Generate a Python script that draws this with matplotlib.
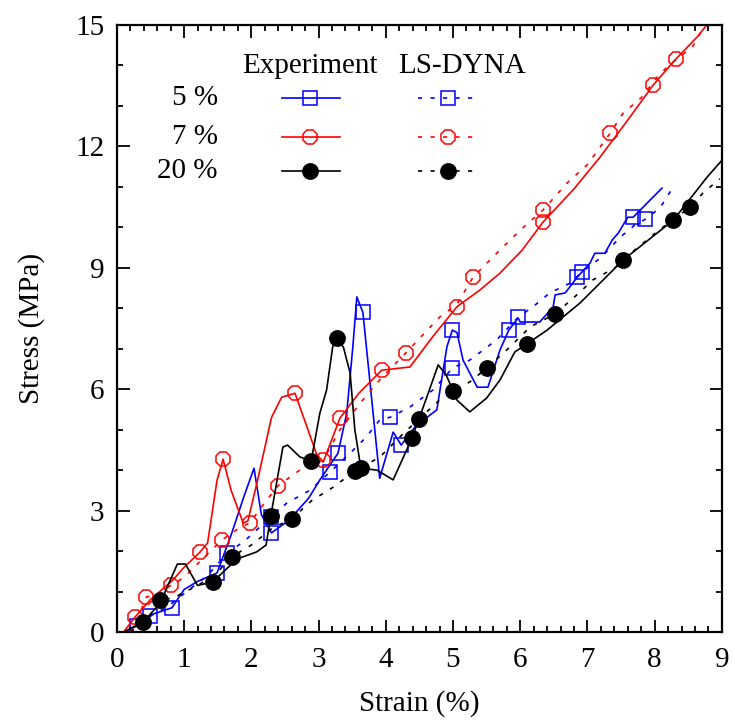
import matplotlib.pyplot as plt
from matplotlib.ticker import MultipleLocator

plt.rcParams['font.family'] = ['Liberation Serif', 'DejaVu Serif']
plt.rcParams['font.size'] = 21

# Experiment, 5 % (blue solid, squares)
exp5_x = [0.10, 0.30, 0.55, 0.82, 1.00, 1.20, 1.49, 1.70, 1.88, 2.04, 2.15, 2.30, 2.55, 2.85,
          3.02, 3.29, 3.42, 3.51, 3.57, 3.66, 3.76, 3.91, 4.11, 4.23, 4.45, 4.76, 4.91, 4.99,
          5.06, 5.15, 5.36, 5.52, 5.70, 5.83, 5.97, 6.00, 6.29, 6.49, 6.52, 6.67, 6.85, 7.04,
          7.11, 7.26, 7.37, 7.46, 7.60, 7.68, 7.83, 7.93, 8.11]
exp5_y = [0.00, 0.15, 0.45, 0.60, 1.05, 1.25, 1.46, 2.40, 3.30, 4.05, 2.90, 2.45, 2.75, 3.30,
          3.76, 4.42, 5.41, 7.04, 8.28, 7.90, 6.26, 3.80, 4.94, 4.62, 5.10, 5.49, 7.05, 7.46,
          7.40, 6.72, 6.05, 6.05, 6.97, 7.46, 7.76, 7.66, 7.66, 8.03, 8.33, 8.38, 8.77, 9.12,
          9.36, 9.36, 9.69, 9.86, 10.25, 10.25, 10.50, 10.67, 10.97]
exp5_mx = [0.30, 0.82, 1.49, 2.30, 3.29, 3.66, 4.23, 4.99, 5.83, 6.85, 7.68]

# LS-DYNA, 5 % (blue dotted, squares)
ls5_x = [0.20, 0.49, 0.75, 1.00, 1.35, 1.64, 1.90, 2.13, 2.30, 2.53, 2.87, 3.17, 3.47, 3.70,
         3.91, 4.07, 4.36, 4.70, 4.85, 4.99, 5.25, 5.65, 5.97, 6.20, 6.44, 6.74, 6.92, 7.20,
         7.49, 7.70, 7.86, 8.08, 8.20, 8.27]
ls5_y = [0.00, 0.40, 0.62, 0.95, 1.40, 1.95, 2.25, 2.60, 2.85, 3.19, 3.50, 3.95, 4.42, 4.80,
         5.24, 5.31, 5.56, 5.98, 6.25, 6.52, 6.72, 7.22, 7.78, 8.05, 8.38, 8.62, 8.90, 9.25,
         9.76, 10.05, 10.20, 10.48, 10.80, 10.97]
ls5_mx = [0.49, 1.64, 2.30, 3.17, 4.07, 4.99, 5.97, 6.92, 7.86]

# Experiment, 7 % (red solid, circles)
exp7_x = [0.10, 0.27, 0.50, 0.83, 1.00, 1.24, 1.35, 1.49, 1.58, 1.70, 1.88, 1.95, 2.10, 2.30,
          2.45, 2.65, 2.80, 2.97, 3.07, 3.32, 3.60, 3.94, 4.36, 4.70, 5.06, 5.40, 5.70, 6.03,
          6.34, 6.80, 7.19, 7.60, 7.98, 8.30, 8.63, 8.80]
exp7_y = [0.00, 0.37, 0.80, 1.28, 1.60, 1.98, 2.20, 3.75, 4.27, 3.50, 2.69, 2.75, 3.80, 5.30,
          5.80, 5.90, 5.20, 4.40, 4.20, 5.29, 5.90, 6.47, 6.55, 7.30, 8.04, 8.45, 8.87, 9.44,
          10.13, 10.95, 11.74, 12.65, 13.52, 14.13, 14.70, 15.05]
exp7_mx = [0.27, 1.24, 1.58, 2.65, 3.32, 3.94, 5.06, 6.34, 7.98]

# LS-DYNA, 7 % (red dotted, circles)
ls7_x = [0.20, 0.30, 0.44, 0.60, 0.80, 1.00, 1.30, 1.56, 1.80, 1.98, 2.20, 2.40, 2.72, 3.07,
         3.32, 3.62, 3.91, 4.30, 4.80, 5.06, 5.30, 5.65, 6.00, 6.34, 6.70, 7.00, 7.34, 7.53,
         7.80, 8.08, 8.32, 8.56, 8.75]
ls7_y = [0.00, 0.30, 0.87, 0.90, 1.15, 1.35, 1.85, 2.27, 2.55, 2.70, 3.20, 3.62, 4.00, 4.25,
         5.00, 5.66, 6.23, 6.90, 7.78, 8.10, 8.77, 9.36, 9.93, 10.43, 11.10, 11.55, 12.33,
         12.82, 13.20, 13.80, 14.15, 14.45, 15.00]
ls7_mx = [0.44, 0.80, 1.56, 1.98, 2.40, 3.07, 4.30, 5.30, 6.34, 7.34, 8.32]

# Experiment, 20 % (black solid, filled circles)
exp20_x = [0.10, 0.39, 0.64, 0.90, 1.02, 1.20, 1.43, 1.78, 2.08, 2.22, 2.29, 2.47, 2.54, 2.72,
           2.89, 3.02, 3.12, 3.21, 3.27, 3.37, 3.47, 3.54, 3.63, 3.87, 4.11, 4.39, 4.61, 4.78,
           4.90, 5.06, 5.25, 5.50, 5.70, 5.92, 6.10, 6.40, 6.89, 7.53, 8.28, 8.78, 9.05]
exp20_y = [0.00, 0.25, 0.70, 1.68, 1.68, 1.15, 1.24, 1.80, 1.98, 2.15, 2.87, 4.57, 4.62, 4.33,
           4.22, 5.41, 5.98, 7.04, 7.26, 7.04, 6.40, 5.00, 4.05, 4.00, 3.76, 4.79, 5.80, 6.60,
           6.35, 5.73, 5.44, 5.78, 6.23, 6.92, 7.12, 7.46, 8.13, 9.19, 10.18, 11.24, 11.75]
exp20_mx = [0.39, 1.43, 2.29, 2.89, 3.27, 3.63, 4.39, 6.10, 7.53, 8.28]

# LS-DYNA, 20 % (black dotted, filled circles)
ls20_x = [0.20, 0.45, 0.64, 0.85, 1.20, 1.45, 1.71, 2.00, 2.30, 2.60, 2.90, 3.22, 3.54, 3.91,
          4.21, 4.49, 4.80, 5.00, 5.25, 5.50, 5.80, 6.15, 6.52, 6.89, 7.08, 7.41, 7.71, 8.08,
          8.53, 8.72, 8.97]
ls20_y = [0.00, 0.30, 0.79, 0.85, 1.15, 1.40, 1.86, 2.15, 2.55, 2.80, 3.25, 3.58, 3.98, 4.32,
          4.82, 5.26, 5.73, 5.96, 6.18, 6.52, 6.97, 7.54, 7.86, 8.40, 8.70, 9.00, 9.45, 9.95,
          10.50, 10.85, 11.20]
ls20_mx = [0.64, 1.71, 2.60, 3.54, 4.49, 5.00, 5.50, 6.52, 8.53]

dotted = (0, (2.5, 5))
style = {
    'blue': dict(marker='s', ms=10.5, mfc='none'),
    'red': dict(marker='8', ms=10.5, mfc='none'),
    'black': dict(marker='o', ms=11, mfc='black'),
}

fig = plt.figure(figsize=(7.35, 7.21), dpi=100)
ax = fig.add_axes([0.159, 0.1234, 0.8231, 0.8419])

curves = [
    (exp5_x, exp5_y, exp5_mx, 'blue', '-'),
    (ls5_x, ls5_y, ls5_mx, 'blue', dotted),
    (exp7_x, exp7_y, exp7_mx, 'red', '-'),
    (ls7_x, ls7_y, ls7_mx, 'red', dotted),
    (exp20_x, exp20_y, exp20_mx, 'black', '-'),
    (ls20_x, ls20_y, ls20_mx, 'black', dotted),
]
for x, y, mx, c, ls in curves:
    ax.plot(x, y, color=c, ls=ls, lw=1.2, mec=c, mew=1.1,
            markevery=[x.index(v) for v in mx], **style[c])

ax.set_xlim(0, 9)
ax.set_ylim(0, 15)
ax.xaxis.set_major_locator(MultipleLocator(1))
ax.xaxis.set_minor_locator(MultipleLocator(0.2))
ax.yaxis.set_major_locator(MultipleLocator(3))
ax.yaxis.set_minor_locator(MultipleLocator(1))
ax.tick_params(which='both', direction='in', top=True, right=True, width=1.3)
ax.tick_params(which='major', length=9)
ax.tick_params(which='minor', length=4.5)
ax.tick_params(axis='x', which='major', pad=11)
ax.tick_params(axis='y', which='major', pad=9)
for s in ax.spines.values():
    s.set_linewidth(1.6)

ax.set_xlabel('Strain (%)', labelpad=12)
ax.set_ylabel('Stress (MPa)', labelpad=22)

# legend drawn by hand: column headers, row labels, line samples
ax.text(0.319, 0.921, 'Experiment', ha='center', va='baseline', transform=ax.transAxes)
ax.text(0.570, 0.921, 'LS-DYNA', ha='center', va='baseline', transform=ax.transAxes)
rows = [('5 %', 'blue', 0.880), ('7 %', 'red', 0.8155), ('20 %', 'black', 0.7595)]
for lab, c, yy in rows:
    ax.text(0.167, yy, lab, ha='right', va='center', transform=ax.transAxes)
    ax.plot([0.273, 0.320, 0.369], [yy] * 3, color=c, ls='-', lw=1.2, mec=c, mew=1.1,
            markevery=[1], transform=ax.transAxes, clip_on=False, **style[c])
    ax.plot([0.4975, 0.547, 0.595], [yy] * 3, color=c, ls=dotted, lw=1.2, mec=c, mew=1.1,
            markevery=[1], transform=ax.transAxes, clip_on=False, **style[c])

plt.savefig('out.png', dpi=100)
